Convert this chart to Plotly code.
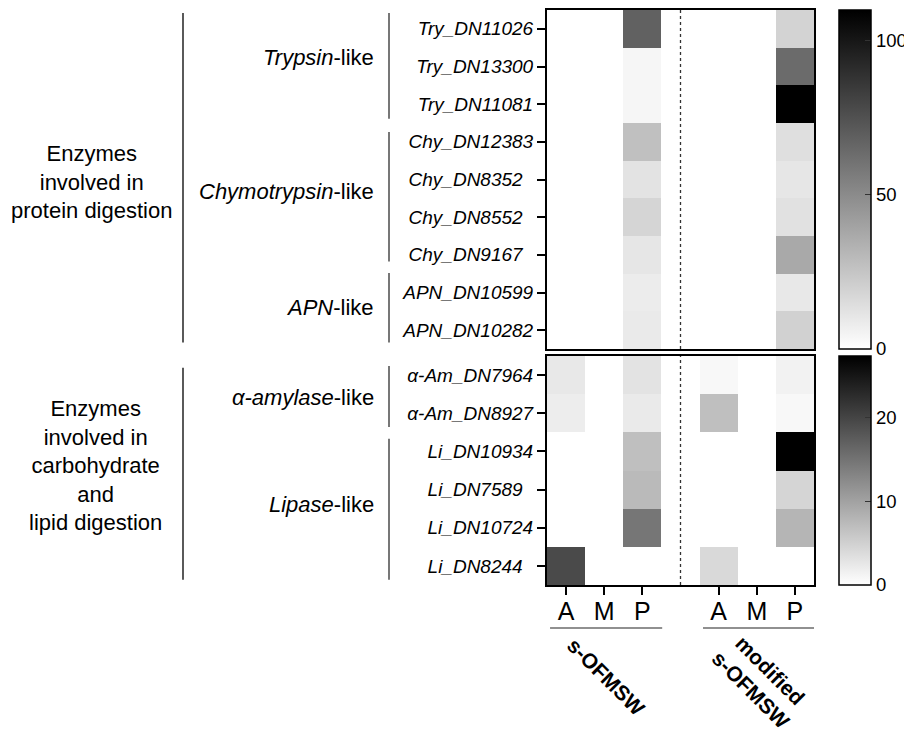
import plotly.graph_objects as go

# ---------------- data ----------------
top_rows = ["Try_DN11026", "Try_DN13300", "Try_DN11081", "Chy_DN12383",
            "Chy_DN8352\u00a0\u00a0", "Chy_DN8552\u00a0\u00a0", "Chy_DN9167\u00a0\u00a0",
            "APN_DN10599", "APN_DN10282"]
bot_rows = ["α-Am_DN7964", "α-Am_DN8927", "Li_DN10934", "Li_DN7589\u00a0\u00a0",
            "Li_DN10724", "Li_DN8244\u00a0\u00a0"]
col_labels = ["A", "M", "P", "", "A", "M", "P"]

# protein digestion (scale 0-110)
s_top_A = [0, 0, 0, 0, 0, 0, 0, 0, 0]
s_top_M = [0, 0, 0, 0, 0, 0, 0, 0, 0]
s_top_P = [68, 4, 4, 27, 12, 18, 11, 8, 9]
m_top_A = [0, 0, 0, 0, 0, 0, 0, 0, 0]
m_top_M = [0, 0, 0, 0, 0, 0, 0, 0, 0]
m_top_P = [19, 64, 110, 14, 11, 13, 37, 10, 20]

# carbohydrate & lipid digestion (scale 0-27.3)
s_bot_A = [2.5, 1.9, 0, 0, 0, 19.4]
s_bot_M = [0, 0, 0, 0, 0, 0]
s_bot_P = [3.0, 2.2, 6.8, 7.4, 14.7, 0]
m_bot_A = [0.8, 6.8, 0, 0, 0, 4.1]
m_bot_M = [0, 0, 0, 0, 0, 0]
m_bot_P = [1.4, 0.8, 27.3, 4.5, 7.9, 0]

top_ticks = [0, 50, 100]
bot_ticks = [0, 10, 20]
TOP_MAX = 110
BOT_MAX = 27.3


def build(cols, n):
    z = []
    for i in range(n):
        z.append([None if c is None else c[i] for c in cols])
    return z


z_top = build([s_top_A, s_top_M, s_top_P, None, m_top_A, m_top_M, m_top_P], len(top_rows))
z_bot = build([s_bot_A, s_bot_M, s_bot_P, None, m_bot_A, m_bot_M, m_bot_P], len(bot_rows))

FONT = "Arial, Liberation Sans, sans-serif"
OFF = 8                      # page body margin of the html page
W, H = 912 - OFF, 732 - OFF


def px(x):
    return (x - OFF) / W


def py(y):
    return 1 - (y - OFF) / H


gray = [[0, "#ffffff"], [1, "#000000"]]

fig = go.Figure()
xs = list(range(len(col_labels)))

cb_common = dict(x=px(839), xanchor="left", xpad=0, ypad=0, thickness=32,
                 thicknessmode="pixels", outlinewidth=1.5, outlinecolor="black",
                 ticks="inside", ticklen=6, tickcolor="#333",
                 tickfont=dict(family=FONT, size=18.5, color="black"))

fig.add_trace(go.Heatmap(
    z=z_top, x=xs, y=list(range(len(top_rows))), xaxis="x", yaxis="y",
    colorscale=gray, zmin=0, zmax=TOP_MAX, hoverongaps=False,
    colorbar=dict(y=py(179.5), yanchor="middle", len=339, lenmode="pixels",
                  tickvals=top_ticks, **cb_common),
))
fig.add_trace(go.Heatmap(
    z=z_bot, x=xs, y=list(range(len(bot_rows))), xaxis="x2", yaxis="y2",
    colorscale=gray, zmin=0, zmax=BOT_MAX, hoverongaps=False,
    colorbar=dict(y=py(470.5), yanchor="middle", len=229, lenmode="pixels",
                  tickvals=bot_ticks, **cb_common),
))

xdom = [px(547), px(814)]
axis_common = dict(showline=True, linewidth=2, linecolor="black", mirror=True,
                   showgrid=False, zeroline=False)
fig.update_layout(
    width=W, height=H, margin=dict(l=0, r=0, t=0, b=0, autoexpand=False),
    paper_bgcolor="white", plot_bgcolor="white", showlegend=False,
    font=dict(family=FONT, color="black"),
    xaxis=dict(domain=xdom, range=[-0.5, 6.5], anchor="y", showticklabels=False,
               ticks="", **axis_common),
    yaxis=dict(domain=[py(349), py(10)], range=[len(top_rows) - 0.5, -0.5],
               anchor="x", tickvals=list(range(len(top_rows))), ticktext=top_rows,
               ticks="outside", ticklen=8, tickwidth=2, tickcolor="black",
               tickfont=dict(family=FONT, size=19, style="italic"), **axis_common),
    xaxis2=dict(domain=xdom, range=[-0.5, 6.5], anchor="y2",
                tickvals=[0, 1, 2, 4, 5, 6], ticktext=["A", "M", "P", "A", "M", "P"],
                ticks="outside", ticklen=8, tickwidth=2, tickcolor="black",
                ticklabelstandoff=-5,
                tickfont=dict(family=FONT, size=25), **axis_common),
    yaxis2=dict(domain=[py(585), py(356)], range=[len(bot_rows) - 0.5, -0.5],
                anchor="x2", tickvals=list(range(len(bot_rows))), ticktext=bot_rows,
                ticks="outside", ticklen=8, tickwidth=2, tickcolor="black",
                tickfont=dict(family=FONT, size=19, style="italic"), **axis_common),
)

shapes = []
# dashed separators between the two substrates
for xr, yr in (("x", "y domain"), ("x2", "y2 domain")):
    shapes.append(dict(type="line", xref=xr, yref=yr, x0=3, x1=3, y0=0, y1=1,
                       line=dict(color="#333", width=1.3, dash="3px,3px")))

# group brackets
grp_x = px(183)
sub_x = px(389)
shapes.append(dict(type="line", xref="paper", yref="y", x0=grp_x, x1=grp_x,
                   y0=-0.42, y1=8.33, line=dict(color="black", width=1.3)))
shapes.append(dict(type="line", xref="paper", yref="y2", x0=grp_x, x1=grp_x,
                   y0=-0.19, y1=5.36, line=dict(color="black", width=1.3)))
sub_top = [(-0.42, 2.39), (2.74, 6.18), (6.48, 8.33)]
sub_bot = [(-0.24, 1.36), (1.67, 5.36)]
for a, b in sub_top:
    shapes.append(dict(type="line", xref="paper", yref="y", x0=sub_x, x1=sub_x,
                       y0=a, y1=b, line=dict(color="#555", width=1.6)))
for a, b in sub_bot:
    shapes.append(dict(type="line", xref="paper", yref="y2", x0=sub_x, x1=sub_x,
                       y0=a, y1=b, line=dict(color="#555", width=1.6)))
# underlines of the substrate labels
for a, b in ((-0.42, 2.52), (3.59, 6.53)):
    shapes.append(dict(type="line", xref="x2", yref="paper", x0=a, x1=b,
                       y0=py(628), y1=py(628), line=dict(color="#222", width=1.2)))
fig.update_layout(shapes=shapes)

ann = []
ann.append(dict(xref="paper", yref="y", x=px(91), y=4.06, showarrow=False,
                xanchor="center", yanchor="middle",
                text="Enzymes<br>involved in<br>protein digestion",
                font=dict(size=22), align="center"))
ann.append(dict(xref="paper", yref="y2", x=px(95), y=2.38, showarrow=False,
                xanchor="center", yanchor="middle",
                text="Enzymes<br>involved in<br>carbohydrate<br>and<br>lipid digestion",
                font=dict(size=22), align="center"))
subs = [("y", 0.77, "<i>Trypsin</i>-like"), ("y", 4.33, "<i>Chymotrypsin</i>-like"),
        ("y", 7.4, "<i>APN</i>-like"), ("y2", 0.6, "<i>α-amylase</i>-like"),
        ("y2", 3.4, "<i>Lipase</i>-like")]
for yr, yv, t in subs:
    ann.append(dict(xref="paper", yref=yr, x=px(376), y=yv, xanchor="right",
                    yanchor="middle", showarrow=False, text=t, font=dict(size=22)))
ann.append(dict(xref="x2", yref="paper", x=1.05, y=py(676), showarrow=False,
                xanchor="center", yanchor="middle",
                text="<b>s-OFMSW</b>", textangle=45, font=dict(size=21)))
ann.append(dict(xref="x2", yref="paper", x=5.1, y=py(680), showarrow=False,
                xanchor="center", yanchor="middle",
                text="<b>modified</b><br><b>s-OFMSW</b>", textangle=45,
                font=dict(size=21), align="center"))
fig.update_layout(annotations=ann)

fig.write_html("out.html")
